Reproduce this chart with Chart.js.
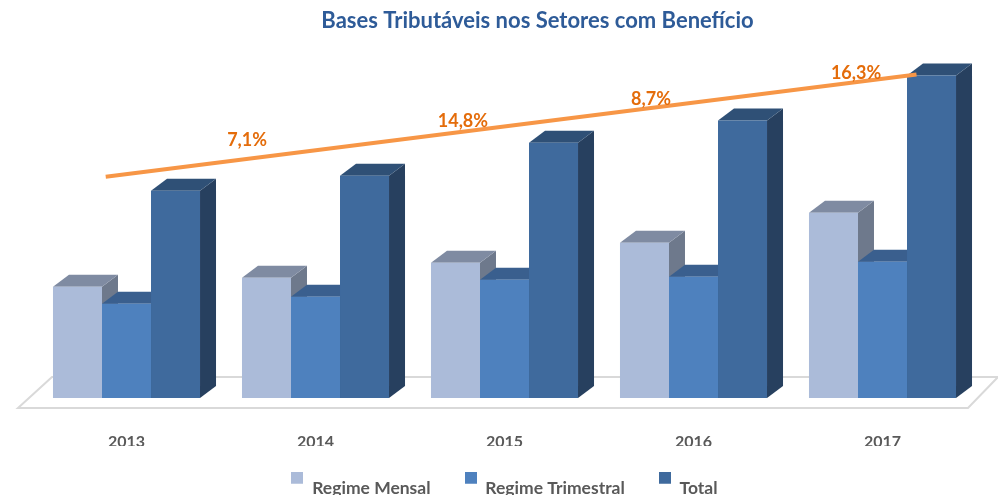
<!DOCTYPE html>
<html><head><meta charset="utf-8">
<script src="https://cdn.jsdelivr.net/npm/chart.js@4/dist/chart.umd.min.js"></script>
<style>html,body{margin:0;padding:0;background:#fff;overflow:hidden}#wrap{width:998px;height:495px}</style>
</head><body><div id="wrap"><canvas id="c" width="998" height="495"></canvas></div>
<script>
// ---- data ----
const categories = ['2013', '2014', '2015', '2016', '2017'];
const regimeMensal = [111, 120, 135, 155, 185];
const regimeTrimestral = [94, 101, 118, 121, 136];
const total = [207, 222, 255, 277, 322];
const seriesNames = ['Regime Mensal', 'Regime Trimestral', 'Total'];
const growthLabels = ['7,1%', '14,8%', '8,7%', '16,3%'];
const trendX = [-0.11, 4.18];
const trendY = [221, 323];

// ---- styling ----
const FONT = 'Lato, "Liberation Sans", sans-serif';
const frontColors = ['#ABBBD9', '#4E81BE', '#3F6A9D'];
const topColors = ['#7F8BA2', '#3A5F8E', '#2F5076'];
const sideColors = ['#6E798C', '#34557E', '#27405F'];
const DX = 16, DY = 12;
const labelAnchorX = [0.638, 1.78, 2.775, 3.86];
const labelAnchorY = [257, 276, 298, 324];

function marker(color) {
  const c = document.createElement('canvas');
  c.width = 12; c.height = 34;
  const g = c.getContext('2d');
  g.fillStyle = color; g.fillRect(0, 0, 12, 12);
  return c;
}
const markers = frontColors.map(marker);

function poly(ctx, pts, color) {
  ctx.beginPath();
  ctx.moveTo(pts[0][0], pts[0][1]);
  for (let i = 1; i < pts.length; i++) ctx.lineTo(pts[i][0], pts[i][1]);
  ctx.closePath();
  ctx.fillStyle = color;
  ctx.fill();
}

const bar3d = {
  id: 'bar3d',
  afterLayout(chart) {
    if (chart.titleBlock) chart.titleBlock.left += 66;
  },
  beforeDatasetsDraw(chart) {
    const ctx = chart.ctx, a = chart.chartArea;
    ctx.save();
    ctx.beginPath();
    ctx.moveTo(a.left - 14, a.bottom + 10);
    ctx.lineTo(a.right - 9, a.bottom + 10);
    ctx.lineTo(a.right + 21, a.bottom - 21);
    ctx.lineTo(a.left + 20, a.bottom - 21);
    ctx.closePath();
    ctx.strokeStyle = '#D9D9D9';
    ctx.lineWidth = 2;
    ctx.stroke();
    for (let i = 0; i < categories.length; i++) {
      for (let d = 0; d < 3; d++) {
        const el = chart.getDatasetMeta(d).data[i];
        const p = el.getProps(['x', 'y', 'base', 'width'], true);
        const l = p.x - p.width / 2, r = p.x + p.width / 2, t = p.y, b = p.base;
        poly(ctx, [[r, t], [r + DX, t - DY], [r + DX, b - DY], [r, b]], sideColors[d]);
        poly(ctx, [[l, t], [r, t], [r + DX, t - DY], [l + DX, t - DY]], topColors[d]);
      }
    }
    ctx.restore();
  },
  afterDatasetsDraw(chart) {
    const ctx = chart.ctx;
    const xs = chart.scales.x, ys = chart.scales.y;
    ctx.save();
    ctx.beginPath();
    trendX.forEach((xv, i) => {
      const px = xs.getPixelForValue(xv), py = ys.getPixelForValue(trendY[i]);
      if (i === 0) ctx.moveTo(px, py); else ctx.lineTo(px, py);
    });
    ctx.strokeStyle = '#F79646';
    ctx.lineWidth = 4;
    ctx.lineCap = 'butt';
    ctx.stroke();
    ctx.font = 'bold 18px ' + FONT;
    ctx.fillStyle = '#E46C0A';
    ctx.textAlign = 'center';
    ctx.textBaseline = 'middle';
    growthLabels.forEach((txt, i) => {
      ctx.fillText(txt, xs.getPixelForValue(labelAnchorX[i]), ys.getPixelForValue(labelAnchorY[i]));
    });
    ctx.restore();
  }
};

const barSets = [regimeMensal, regimeTrimestral, total].map((vals, d) => ({
  label: seriesNames[d],
  data: vals,
  backgroundColor: frontColors[d],
  borderWidth: 0
}));

new Chart(document.getElementById('c'), {
  type: 'bar',
  data: { labels: categories, datasets: barSets },
  options: {
    responsive: false,
    animation: false,
    devicePixelRatio: 1,
    categoryPercentage: 0.778,
    barPercentage: 1,
    layout: { padding: { left: 32, right: 21, top: 0, bottom: -12.5 } },
    scales: {
      x: {
        type: 'category',
        offset: true,
        grid: { display: false, drawTicks: false },
        border: { display: false },
        ticks: { color: '#595959', padding: 40, font: { family: FONT, size: 16, weight: 'bold', lineHeight: 0.5 } },
        afterFit(scale) { scale.height = 48; }
      },
      y: { type: 'linear', display: false, min: 0, max: 347.5 }
    },
    plugins: {
      tooltip: { enabled: false },
      title: {
        display: true,
        text: 'Bases Tributáveis nos Setores com Benefício',
        color: '#2E5B98',
        font: { family: FONT, size: 22, weight: 'bold' },
        padding: { top: 8, bottom: 15.6 }
      },
      legend: {
        display: true,
        position: 'bottom',
        labels: {
          usePointStyle: true,
          boxWidth: 12,
          boxHeight: 12,
          padding: 34,
          color: '#595959',
          font: { family: FONT, size: 17.5, weight: 'bold' },
          generateLabels(ch) {
            return Chart.defaults.plugins.legend.labels.generateLabels(ch)
              .sort((a, b) => a.datasetIndex - b.datasetIndex)
              .map(it => Object.assign({}, it, { pointStyle: markers[it.datasetIndex] }));
          }
        }
      }
    }
  },
  plugins: [bar3d]
});
</script>
</body></html>
